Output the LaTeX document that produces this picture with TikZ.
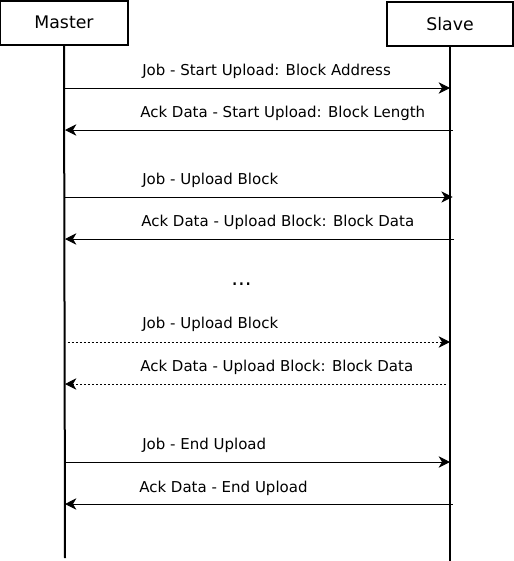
\documentclass[tikz,border=0pt]{standalone}
\usepackage{fontspec}
\setmainfont{DejaVu Sans}
\usetikzlibrary{arrows.meta}
\tikzset{
  actor/.style={draw, line width=1.5pt, minimum width=96pt, minimum height=33pt, inner sep=0pt, font=\fontsize{13}{15}\selectfont},
  lifeline/.style={line width=1.5pt},
  msg/.style={line width=0.75pt, -{Stealth[length=8.5pt,width=8.5pt,inset=2.5pt]}},
  dmsg/.style={msg, dash pattern=on 1.5pt off 1.5pt},
  lbl/.style={anchor=west, inner sep=0pt, font=\fontsize{11.25}{13}\selectfont}
}
\begin{document}
\begin{tikzpicture}[x=0.75pt,y=-0.75pt]
\useasboundingbox (0,0) rectangle (514,561);
\node[actor] (master) at (64,22.5) {Master};
\node[actor, minimum width=94.5pt] (slave) at (450,24) {Slave};
\coordinate (mend) at (65,558);
\coordinate (send) at (450,561);
\draw[lifeline] (master.south -| 64,0) -- (mend);
\draw[lifeline] (slave.south) -- (send);
% message anchors
\foreach \n/\y in {1/88,2/130,3/197,4/239,6/342,7/384,8/462,9/504}{
  \coordinate (m\n) at (65,\y);
  \coordinate (s\n) at (450,\y);
}
\draw[msg] (m1) -- (s1);
\node[lbl] (l1) at (142,71) {Job - Start Upload: Block Address};
\draw[msg] ([xshift=2]s2) -- (m2);
\node[lbl] (l2) at (140,113) {Ack Data - Start Upload: Block Length};
\draw[msg] (m3) -- ([xshift=2]s3);
\node[lbl] (l3) at (142,180) {Job - Upload Block};
\draw[msg] ([xshift=3]s4) -- (m4);
\node[lbl] (l4) at (141,222) {Ack Data - Upload Block: Block Data};
\node[inner sep=0pt, anchor=base, font=\fontsize{16}{18}\selectfont] (dots) at (241.5,285) {...};
\draw[dmsg] ([xshift=2]m6) -- (s6);
\node[lbl] (l6) at (142,324) {Job - Upload Block};
\draw[dmsg] ([xshift=-3]s7) -- (m7);
\node[lbl] (l7) at (140,367) {Ack Data - Upload Block: Block Data};
\draw[msg] ([xshift=1]m8) -- (s8);
\node[lbl] (l8) at (142,445) {Job - End Upload};
\draw[msg] ([xshift=2]s9) -- (m9);
\node[lbl] (l9) at (139,488) {Ack Data - End Upload};
\end{tikzpicture}
\end{document}
